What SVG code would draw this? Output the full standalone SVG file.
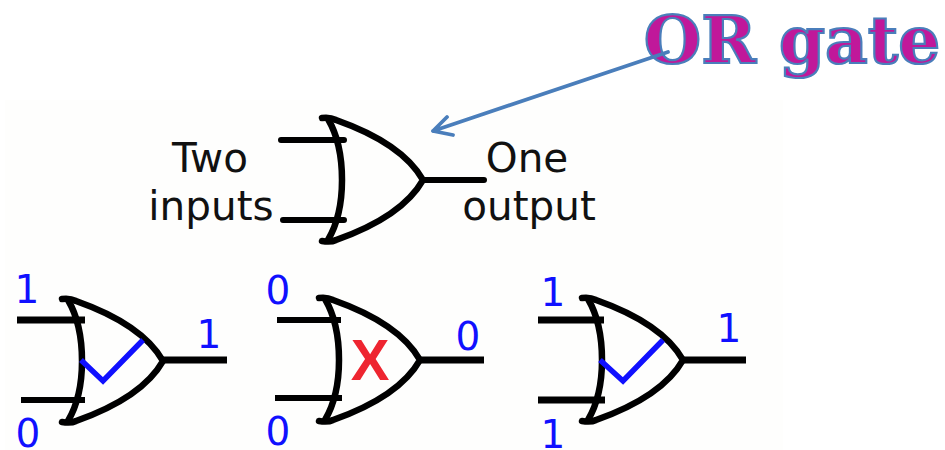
<svg xmlns="http://www.w3.org/2000/svg" width="945" height="450" viewBox="0 0 945 450">
<style>
.b{fill:none;stroke:#000;stroke-width:6.5;stroke-linecap:round;stroke-linejoin:round}
.w{fill:none;stroke:#000;stroke-width:7;stroke-linecap:butt}
.n{fill:none;stroke:#000;stroke-width:6;stroke-linecap:butt}
.m{fill:none;stroke:#000;stroke-width:6;stroke-linecap:round}
.c{fill:none;stroke:#1010ff;stroke-width:5.5;stroke-linejoin:miter}
.d{font:39px "DejaVu Sans",sans-serif;fill:#1010ff;text-anchor:middle}
.t{font:40.5px "DejaVu Sans",sans-serif;fill:#111;text-anchor:middle}
.a{fill:none;stroke:#4a7ebb;stroke-width:3.8;stroke-linecap:round;stroke-linejoin:round}
</style>
<defs>
<g id="gate">
<path class="b" d="M0 0C6 -1 10 0 14 2C48 14 84 32 101 62C84 92 48 110 14 122C10 124 6 124 0 123"/>
<path class="b" d="M6 1C16 18 20 40 20 62C20 84 16 105 6 122"/>
</g>
</defs>
<rect x="5" y="100" width="778" height="350" fill="#fefefd"/>
<text x="792" y="63" style="font:bold 66px 'DejaVu Serif',serif;fill:#c0189a;stroke:#4a7ebb;stroke-width:2.2;text-anchor:middle">OR gate</text>
<g id="connectors">
<path class="a" d="M668 52L433 131M447 117L433 131L453 135"/>
</g>
<g id="main-gate">
<use href="#gate" x="322" y="118"/>
<path class="m" d="M281 140H344M283 220H344M423 180H484"/>
<text class="t" x="210" y="172">Two</text>
<text class="t" x="211" y="220">inputs</text>
<text class="t" x="527" y="172">One</text>
<text class="t" x="529" y="220">output</text>
</g>
<g id="gate-1-0">
<use href="#gate" x="62" y="299"/>
<path class="w" d="M17 320H85M163 360H227"/>
<path class="n" d="M21 400H85"/>
<path class="c" d="M81 360L103 381L143 340"/>
<text class="d" x="27" y="303">1</text>
<text class="d" x="28" y="447">0</text>
<text class="d" x="209" y="348">1</text>
</g>
<g id="gate-0-0">
<use href="#gate" x="319" y="298"/>
<path class="n" d="M277 320H341M275 398H342"/>
<path class="w" d="M420 360H484"/>
<text style="font:bold 58px 'Liberation Sans',sans-serif;fill:#ee2530;text-anchor:middle" x="370" y="380">X</text>
<text class="d" x="278" y="304">0</text>
<text class="d" x="278" y="445">0</text>
<text class="d" x="468" y="350">0</text>
</g>
<g id="gate-1-1">
<use href="#gate" x="582" y="298"/>
<path class="w" d="M538 320H604M538 400H605M683 360H746"/>
<path class="c" d="M600 360L623 381L663 340"/>
<text class="d" x="553" y="306">1</text>
<text class="d" x="553" y="448">1</text>
<text class="d" x="729" y="342">1</text>
</g>
</svg>
